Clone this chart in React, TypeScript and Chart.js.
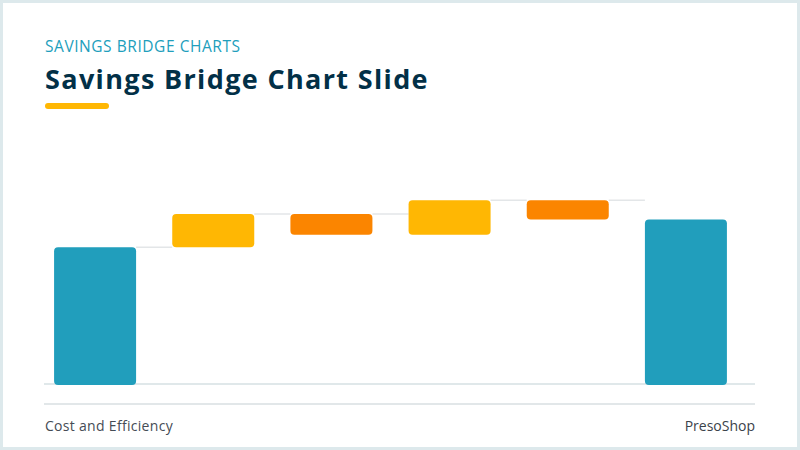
import { useEffect, useRef } from "react";
import { Chart, registerables, Plugin } from "chart.js";

Chart.register(...registerables);

// waterfall steps (in thousands)
const categories = ["Baseline", "Procurement", "Overhead", "Automation", "Reinvestment", "Net Savings"];
const stepValues = [100, 24, -15, 25, -14, 120];
const stepKinds = ["total", "up", "down", "up", "down", "total"];

const TEAL = "#219EBC";
const YELLOW = "#FFB703";
const ORANGE = "#FB8500";

// build floating ranges from the steps
const ranges: [number, number][] = [];
let running = 0;
stepValues.forEach((v, i) => {
  if (stepKinds[i] === "total") {
    ranges.push([0, v]);
    running = v;
  } else {
    const next = running + v;
    ranges.push([Math.min(running, next), Math.max(running, next)]);
    running = next;
  }
});
const barColors = stepKinds.map((k) => (k === "total" ? TEAL : k === "up" ? YELLOW : ORANGE));

const connectors: Plugin<"bar"> = {
  id: "connectors",
  beforeDatasetsDraw(chart) {
    const meta = chart.getDatasetMeta(0);
    const ctx = chart.ctx;
    ctx.save();
    ctx.strokeStyle = "#e3e6e8";
    ctx.lineWidth = 1.5;
    for (let i = 0; i < meta.data.length - 1; i++) {
      const a: any = meta.data[i];
      const b: any = meta.data[i + 1];
      const top = Math.min(a.y, a.base);
      ctx.beginPath();
      ctx.moveTo(a.x + a.width / 2, top);
      ctx.lineTo(b.x - b.width / 2, top);
      ctx.stroke();
    }
    ctx.restore();
  },
};

const BridgeChart = () => {
  const canvasRef = useRef<HTMLCanvasElement | null>(null);

  useEffect(() => {
    if (!canvasRef.current) return;
    const chart = new Chart(canvasRef.current, {
      type: "bar",
      data: {
        labels: categories,
        datasets: [
          {
            data: ranges as any,
            backgroundColor: barColors,
            borderRadius: 4,
            borderSkipped: false,
            categoryPercentage: 1,
            barPercentage: 0.694,
          },
        ],
      },
      options: {
        animation: false,
        responsive: true,
        maintainAspectRatio: false,
        layout: { padding: 0 },
        plugins: {
          legend: { display: false },
          tooltip: { enabled: false },
        },
        scales: {
          x: { display: false },
          y: { display: false, min: 0, max: 148 },
        },
      },
      plugins: [connectors],
    });
    return () => chart.destroy();
  }, []);

  // offsets are inside the 3px slide border
  return (
    <div style={{ position: "absolute", left: 33, top: 178, width: 709, height: 204 }}>
      <canvas ref={canvasRef} />
    </div>
  );
};

const App = () => {
  useEffect(() => {
    document.body.style.margin = "0";
  }, []);

  return (
    <div
      style={{
        position: "fixed",
        left: 0,
        top: 0,
        width: 800,
        height: 450,
        boxSizing: "border-box",
        border: "3px solid #dde9ec",
        background: "#fff",
        fontFamily: "'Open Sans', sans-serif",
        overflow: "hidden",
      }}
    >
      <div style={{ position: "absolute", left: 42, top: 32, fontSize: 15.5, color: TEAL, letterSpacing: 0.55 }}>
        SAVINGS BRIDGE CHARTS
      </div>
      <div
        style={{
          position: "absolute",
          left: 42,
          top: 57,
          fontSize: 27,
          fontWeight: 700,
          color: "#023047",
          letterSpacing: 1.35,
        }}
      >
        Savings Bridge Chart Slide
      </div>
      <div
        style={{ position: "absolute", left: 42, top: 100, width: 64, height: 6, borderRadius: 3, background: YELLOW }}
      />
      <div style={{ position: "absolute", left: 41, top: 380, width: 711, height: 2, background: "#e0e8ea" }} />
      <BridgeChart />
      <div style={{ position: "absolute", left: 41, top: 400, width: 711, height: 2, background: "#e2e7e9" }} />
      <div style={{ position: "absolute", left: 42, top: 413, fontSize: 14, color: "#454c55", letterSpacing: 0.3 }}>
        Cost and Efficiency
      </div>
      <div style={{ position: "absolute", right: 42, top: 413, fontSize: 14, color: "#3b424a" }}>PresoShop</div>
    </div>
  );
};

export default App;
